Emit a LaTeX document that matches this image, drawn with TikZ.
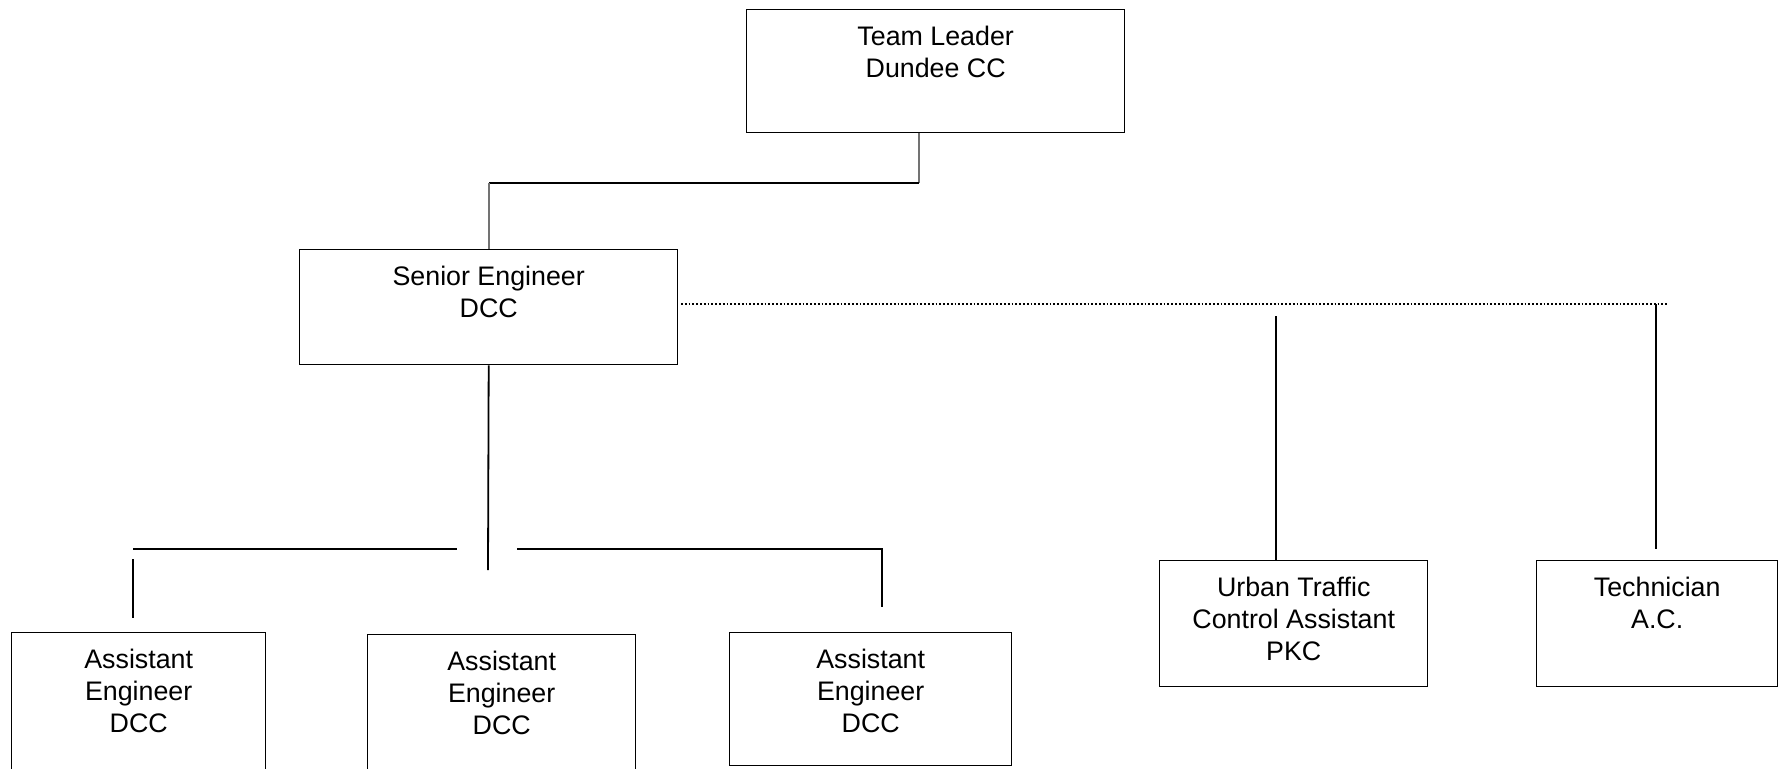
\documentclass[tikz,border=0pt]{standalone}
\usepackage{fontspec}
\setmainfont{Liberation Sans}
\usepackage{tikz}
\usetikzlibrary{positioning}
\newcommand{\linegrey}{black!55}
\newcommand{\orgtext}[3]{\parbox[c][#2][t]{#1}{\centering\rule{0pt}{18pt}#3}}

\begin{document}
\begin{tikzpicture}[x=0.5pt,y=-0.5pt,line width=0.9pt,font=\fontsize{13.4}{16}\selectfont]
    \tikzstyle{orgbox}=[draw=black,line width=0.7pt,inner sep=0pt,anchor=north west]
    \tikzset{feed/.style={draw=\linegrey,line width=0.9pt}}
    \useasboundingbox (0,0) rectangle (1778,768);
    % boxes
    \node[orgbox] (tl) at (746,9) {\orgtext{189pt}{61.5pt}{Team Leader\\Dundee CC}};
    \node[orgbox] (se) at (299,249) {\orgtext{189pt}{57.5pt}{Senior Engineer\\DCC}};
    \node[orgbox] (ae1) at (11,632) {\orgtext{127pt}{70pt}{Assistant\\Engineer\\DCC}};
    \node[orgbox] (ae2) at (367,634) {\orgtext{134pt}{70pt}{Assistant\\Engineer\\DCC}};
    \node[orgbox] (ae3) at (729,632) {\orgtext{141pt}{66.5pt}{Assistant\\Engineer\\DCC}};
    \node[orgbox] (utc) at (1159,560) {\orgtext{134pt}{63pt}{Urban Traffic\\Control Assistant\\PKC}};
    \node[orgbox] (tech) at (1536,560) {\orgtext{120.5pt}{63pt}{Technician\\A.C.}};
    % free ends
    \coordinate (tldrop) at (919,183);
    \coordinate (sedrop) at (488,570);
    \coordinate (barleft) at (133,549);
    \coordinate (barmidl) at (457,549);
    \coordinate (barmidr) at (517,549);
    \coordinate (barright) at (882,549);
    \coordinate (ae1top) at (133,559);
    \coordinate (ae1end) at (133,618);
    \coordinate (ae3end) at (882,607);
    \coordinate (dotstart) at (681,304);
    \coordinate (dotend) at (1668,304);
    \coordinate (utctop) at (1276,316);
    \coordinate (techtop) at (1656,304);
    % connectors
    \path[feed] (tl.south -| tldrop) -- (tldrop);
    \draw (tldrop) -- (tldrop -| se.north);
    \path[feed] (tldrop -| se.north) -- (se.north);
    \draw (se.south) -- (sedrop);
    \draw (barleft) -- (barmidl);
    \draw (barmidr) -- (barright) -- (ae3end);
    \draw (ae1top) -- (ae1end);
    \draw[densely dotted] (dotstart) -- (dotend);
    \draw (utctop) -- (utctop |- utc.north);
    \draw (techtop) -- (techtop |- 0,549);
\end{tikzpicture}
\end{document}
